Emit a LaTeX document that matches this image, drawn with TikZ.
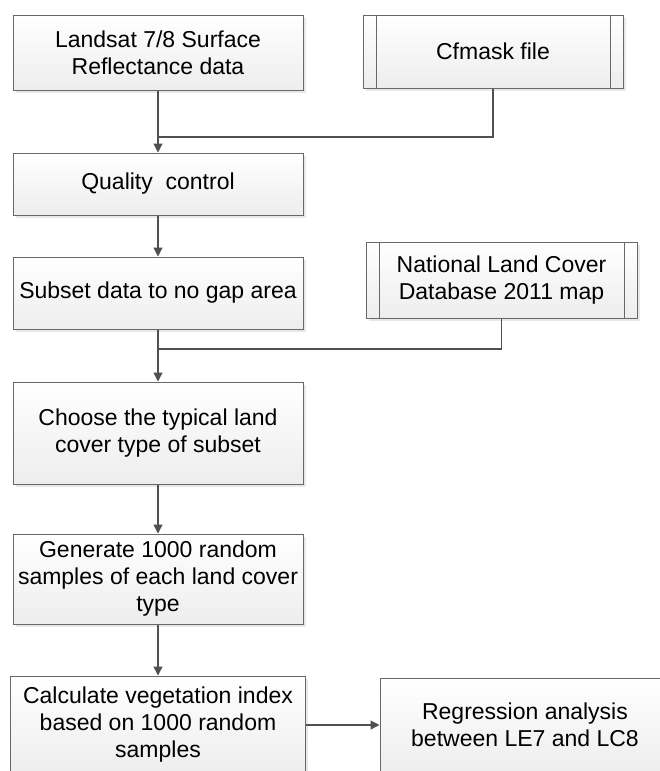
\documentclass[tikz,border=0pt]{standalone}
\usepackage{fontspec}
\setmainfont{Liberation Sans}
\usepackage{tikz}
\usetikzlibrary{arrows.meta,shadows,calc}

\definecolor{linegray}{HTML}{505050}
\definecolor{boxline}{HTML}{686868}

\begin{document}
\begin{tikzpicture}[x=1pt,y=1pt,->,>={Triangle[width=9pt,length=9pt]},
  line width=1.2pt,draw=linegray,
  proc node/.style={rectangle,draw=boxline,line width=1pt,top color=white,bottom color=black!7,
    drop shadow={opacity=0.18,shadow xshift=2.5pt,shadow yshift=-2.5pt},
    align=center,inner sep=2pt,font=\fontsize{23}{27}\selectfont,text=black},
  data node/.style={proc node,
    path picture={
      \draw[-,boxline,line width=1pt] ([xshift=13pt]path picture bounding box.north west) -- ([xshift=13pt]path picture bounding box.south west);
      \draw[-,boxline,line width=1pt] ([xshift=-13pt]path picture bounding box.north east) -- ([xshift=-13pt]path picture bounding box.south east);}}]

  \useasboundingbox (0,0) rectangle (659,-771);

  \node[proc node,minimum width=290pt,minimum height=75pt] (land) at (158,-52.5) {Landsat 7/8 Surface\\Reflectance data};
  \node[data node,minimum width=260pt,minimum height=73pt] (cfm) at (493,-51.5) {Cfmask file};
  \node[proc node,minimum width=290pt,minimum height=62pt] (qual) at (158,-184) {Quality~ control};
  \node[proc node,minimum width=290pt,minimum height=72pt] (sub) at (158,-293) {Subset data to no gap area};
  \node[data node,minimum width=271pt,minimum height=76pt] (nlcd) at (501.5,-280) {National Land Cover\\Database 2011 map};
  \node[proc node,minimum width=290pt,minimum height=102pt] (choose) at (158,-433) {Choose the typical land\\cover type of subset};
  \node[proc node,minimum width=290pt,minimum height=90pt] (gen) at (158,-579) {Generate 1000 random\\samples of each land cover\\type};
  \node[proc node,minimum width=295pt,minimum height=98pt] (calc) at (158,-725) {Calculate vegetation index\\based on 1000 random\\samples};
  \node[proc node,minimum width=290pt,minimum height=94pt] (reg) at (525,-725) {Regression analysis\\between LE7 and LC8};

  \coordinate (j1) at (158,-137);
  \coordinate (j2) at (158,-349);

  \draw (land) -- (qual);
  \draw[-] (cfm) |- (j1);
  \draw (qual) -- (sub);
  \draw (sub) -- (choose);
  \draw[-] (nlcd) |- (j2);
  \draw (choose) -- (gen);
  \draw (gen) -- (calc);
  \draw (calc) -- (reg);

\end{tikzpicture}
\end{document}
